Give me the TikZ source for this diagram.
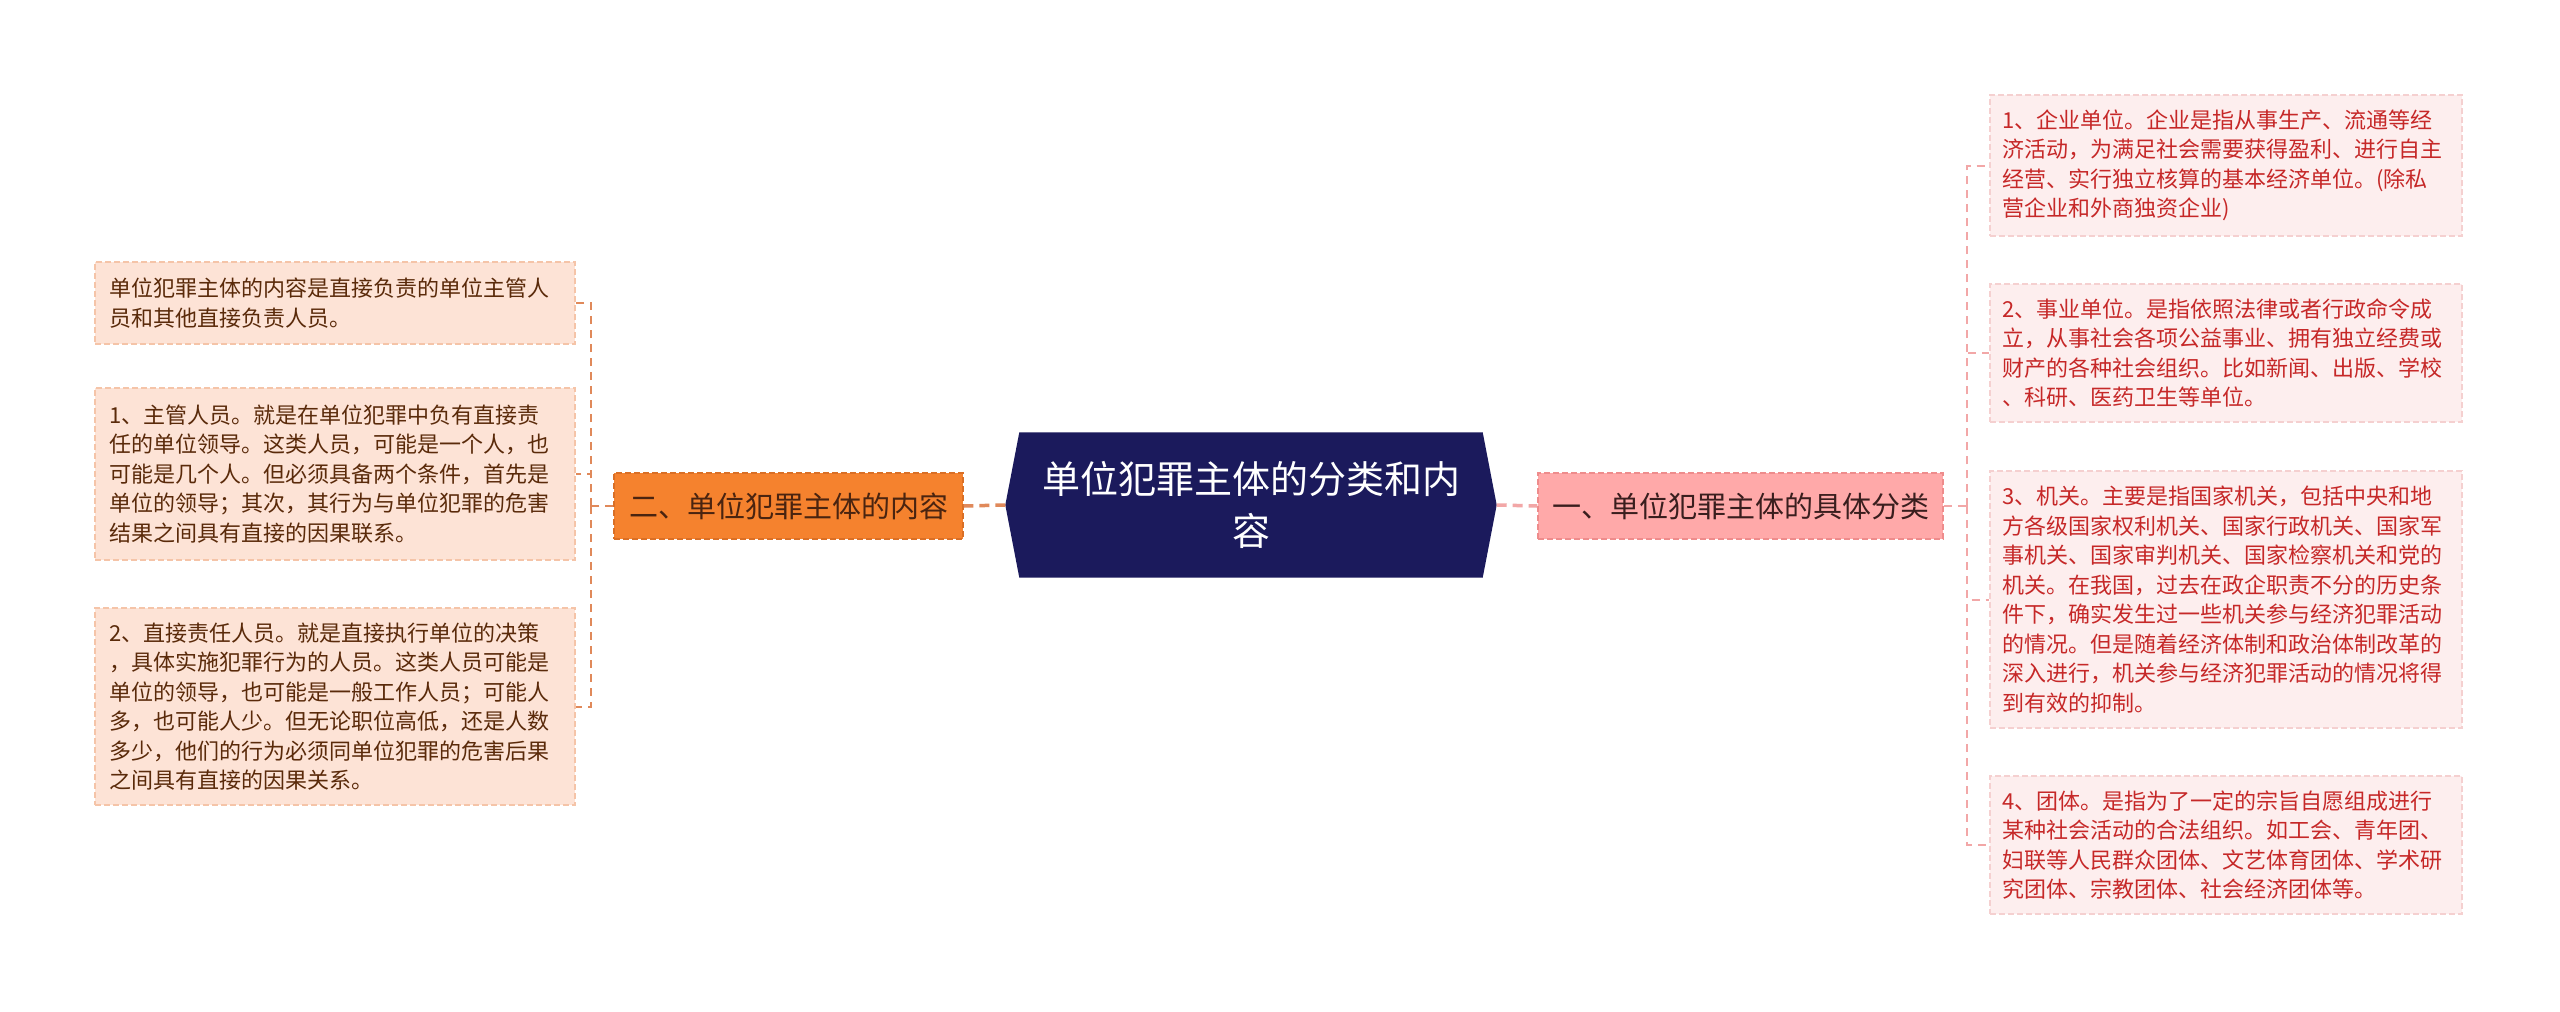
\documentclass[tikz,border=0pt]{standalone}
\usepackage{fontspec}
\setmainfont{Noto Sans CJK SC}
\usetikzlibrary{calc,backgrounds}
\definecolor{navy}{HTML}{1B1A5C}
\definecolor{orangeF}{HTML}{F5822E}
\definecolor{orangeD}{HTML}{D96F26}
\definecolor{orangeT}{HTML}{4A2410}
\definecolor{peachF}{HTML}{FDE3D6}
\definecolor{peachD}{HTML}{F5C4A8}
\definecolor{peachT}{HTML}{5A2A0A}
\definecolor{lcon}{HTML}{E0895A}
\definecolor{pinkF}{HTML}{FFA9A9}
\definecolor{pinkD}{HTML}{EE8C8C}
\definecolor{pinkT}{HTML}{3A1E1E}
\definecolor{roseF}{HTML}{FDEEEE}
\definecolor{roseD}{HTML}{F5D0D0}
\definecolor{roseT}{HTML}{C62828}
\definecolor{rcon}{HTML}{F2A7A7}
\tikzset{
  leafbox/.style={rectangle, inner sep=0pt, minimum width=480pt, text width=452pt, align=left,
    font=\fontsize{22}{29.5}\selectfont, line width=1.2pt, dash pattern=on 6pt off 3pt},
  lleaf/.style={leafbox, fill=peachF, draw=peachD, text=peachT},
  rleaf/.style={leafbox, minimum width=472pt, text width=448pt, fill=roseF, draw=roseD, text=roseT},
  branchbox/.style={rectangle, inner sep=0pt, minimum height=66pt, align=center,
    font=\fontsize{29}{34}\selectfont, line width=1.5pt, dash pattern=on 6pt off 3pt},
  lcondash/.style={draw=lcon, line width=2pt, dash pattern=on 8pt off 6pt},
  rcondash/.style={draw=rcon, line width=2pt, dash pattern=on 8pt off 6pt},
}
\begin{document}
\begin{tikzpicture}[x=1pt,y=-1pt]
\begin{scope}[on background layer]
\fill[white] (0,0) rectangle (2560,1012);
\end{scope}
\useasboundingbox (0,0) rectangle (2560,1012);

% center
\node[rectangle, inner sep=0pt, minimum width=491pt, minimum height=145pt, text=white,
      align=center, font=\fontsize{38}{52}\selectfont] (c) at (1251,505)
  {单位犯罪主体的分类和内\\容};
\begin{scope}[on background layer]
\fill[navy] ($(c.north west)+(14,0)$) -- (c.west) -- ($(c.south west)+(14,0)$)
  -- ($(c.south east)+(-14,0)$) -- (c.east) -- ($(c.north east)+(-14,0)$) -- cycle;
\end{scope}

% branches
\node[branchbox, minimum width=349pt, fill=orangeF, draw=orangeD, text=orangeT] (ob) at (788.5,506)
  {二、单位犯罪主体的内容};
\node[branchbox, minimum width=405pt, fill=pinkF, draw=pinkD, text=pinkT] (pb) at (1740.5,506)
  {一、单位犯罪主体的具体分类};

% left leaves
\node[lleaf, minimum height=82pt] (l1) at (335,303)
  {单位犯罪主体的内容是直接负责的单位主管人\\员和其他直接负责人员。};
\node[lleaf, minimum height=172pt] (l2) at (335,474)
  {1、主管人员。就是在单位犯罪中负有直接责\\任的单位领导。这类人员，可能是一个人，也\\可能是几个人。但必须具备两个条件，首先是\\单位的领导；其次，其行为与单位犯罪的危害\\结果之间具有直接的因果联系。};
\node[lleaf, minimum height=197pt] (l3) at (335,706.5)
  {2、直接责任人员。就是直接执行单位的决策\\，具体实施犯罪行为的人员。这类人员可能是\\单位的领导，也可能是一般工作人员；可能人\\多，也可能人少。但无论职位高低，还是人数\\多少，他们的行为必须同单位犯罪的危害后果\\之间具有直接的因果关系。};

% right leaves
\node[rleaf, minimum height=141pt] (r1) at (2226,165.5)
  {1、企业单位。企业是指从事生产、流通等经\\济活动，为满足社会需要获得盈利、进行自主\\经营、实行独立核算的基本经济单位。(除私\\营企业和外商独资企业)};
\node[rleaf, minimum height=138pt] (r2) at (2226,353)
  {2、事业单位。是指依照法律或者行政命令成\\立，从事社会各项公益事业、拥有独立经费或\\财产的各种社会组织。比如新闻、出版、学校\\、科研、医药卫生等单位。};
\node[rleaf, minimum height=257pt] (r3) at (2226,599.5)
  {3、机关。主要是指国家机关，包括中央和地\\方各级国家权利机关、国家行政机关、国家军\\事机关、国家审判机关、国家检察机关和党的\\机关。在我国，过去在政企职责不分的历史条\\件下，确实发生过一些机关参与经济犯罪活动\\的情况。但是随着经济体制和政治体制改革的\\深入进行，机关参与经济犯罪活动的情况将得\\到有效的抑制。};
\node[rleaf, minimum height=138pt] (r4) at (2226,845)
  {4、团体。是指为了一定的宗旨自愿组成进行\\某种社会活动的合法组织。如工会、青年团、\\妇联等人民群众团体、文艺体育团体、学术研\\究团体、宗教团体、社会经济团体等。};

% connectors center-branch
\draw[draw=lcon, line width=3.5pt, dash pattern=on 10pt off 6pt] (c.west) -- (ob.east);
\draw[draw=rcon, line width=3.5pt, dash pattern=on 10pt off 6pt] (c.east) -- (pb.west);

% left tree
\coordinate (lj) at (591,506);
\draw[lcondash] (ob.west) -- (lj);
\draw[lcondash] (lj) |- (l1.east);
\draw[lcondash] (lj) |- (l2.east);
\draw[lcondash] (lj) |- (l3.east);

% right tree
\coordinate (rj) at (1967,506);
\draw[rcondash] (pb.east) -- (rj);
\draw[rcondash] (rj) |- (r1.west);
\draw[rcondash] (rj) |- (r2.west);
\draw[rcondash] (rj) |- (r3.west);
\draw[rcondash] (rj) |- (r4.west);
\end{tikzpicture}
\end{document}
